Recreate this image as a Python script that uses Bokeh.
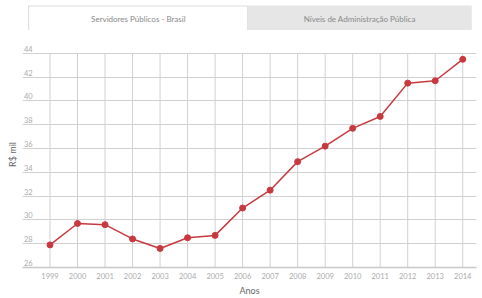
from bokeh.plotting import figure
from bokeh.layouts import column
from bokeh.models import FixedTicker, ColumnDataSource, Range1d
from bokeh.core.properties import value
from bokeh.embed import file_html
from bokeh.resources import INLINE

# ---- data ----
years = [1999, 2000, 2001, 2002, 2003, 2004, 2005, 2006, 2007,
         2008, 2009, 2010, 2011, 2012, 2013, 2014]
salaries = [27.9, 29.7, 29.6, 28.4, 27.6, 28.5, 28.7, 31.0, 32.5,
            34.9, 36.2, 37.7, 38.7, 41.5, 41.7, 43.5]
y_ticks = [26, 28, 30, 32, 34, 36, 38, 40, 42, 44]
y_tick_labels = [str(v) for v in y_ticks]
tab_labels = ["Servidores Públicos - Brasil", "Níveis de Administração Pública"]

FONT = "Lato"
W = 482

# ---- tab strip ----
tabs = figure(width=W, height=30, output_backend="svg", toolbar_location=None,
              x_range=Range1d(0, W), y_range=Range1d(30, 0),
              min_border=0, outline_line_color=None)
tabs.axis.visible = False
tabs.grid.visible = False
tabs.quad(left=[6.5], right=[239], top=[5.5], bottom=[31],
          fill_color="white", line_color="#dcdcdc", line_width=1)
tabs.quad(left=[239], right=[477], top=[5], bottom=[30],
          fill_color="#e6e6e6", line_color=None)
tabs.text(x=[123, 358], y=[18, 18], text=tab_labels,
          text_font=value(FONT), text_font_size="8px", text_color="#888888",
          text_align="center", text_baseline="middle")

# ---- chart ----
p = figure(width=W, height=268, output_backend="svg", toolbar_location=None,
           x_range=Range1d(1998, 2014.5), y_range=Range1d(26, 45),
           min_border_left=22, min_border_right=6, min_border_top=11,
           min_border_bottom=31, outline_line_color=None,
           background_fill_color="white", border_fill_color="white")

p.xaxis.ticker = FixedTicker(ticks=years)
p.xaxis.major_tick_line_color = None
p.xaxis.minor_tick_line_color = None
p.xaxis.major_tick_out = 0
p.xaxis.major_tick_in = 0
p.xaxis.axis_line_color = "#c8c8c8"
p.xaxis.axis_line_width = 1.5
p.xaxis.major_label_text_font = FONT
p.xaxis.major_label_text_font_size = "7.5px"
p.xaxis.major_label_text_color = "#aaaaaa"
p.xaxis.major_label_standoff = 5
p.xaxis.axis_label = "Anos"
p.xaxis.axis_label_text_font = FONT
p.xaxis.axis_label_text_font_style = "normal"
p.xaxis.axis_label_text_font_size = "9px"
p.xaxis.axis_label_text_color = "#666666"
p.xaxis.axis_label_standoff = 3

# y axis carries only its title; its tick labels are drawn inside the frame
p.yaxis.ticker = FixedTicker(ticks=[])
p.yaxis.major_tick_out = 0
p.yaxis.major_tick_in = 0
p.yaxis.minor_tick_out = 0
p.yaxis.axis_line_color = None
p.yaxis.major_label_standoff = 0
p.yaxis.axis_label = "R$ mil"
p.yaxis.axis_label_text_font = FONT
p.yaxis.axis_label_text_font_style = "normal"
p.yaxis.axis_label_text_font_size = "9px"
p.yaxis.axis_label_text_color = "#666666"
p.yaxis.axis_label_standoff = 5

p.xgrid.visible = False
p.ygrid.ticker = FixedTicker(ticks=y_ticks)
p.ygrid.grid_line_color = "#d0d0d0"
p.ygrid.grid_line_width = 1

# vertical grid lines spanning the tick range only
p.segment(x0=years, y0=[y_ticks[0]] * len(years),
          x1=years, y1=[y_ticks[-1]] * len(years),
          line_color="#d0d0d0", line_width=1)

# y tick labels drawn inside the frame, just above their grid lines
ysrc = ColumnDataSource(dict(x=[1998] * len(y_ticks), y=y_ticks, t=y_tick_labels))
p.text(x="x", y="y", text="t", source=ysrc, x_offset=1.5, y_offset=-1.5,
       text_font=value(FONT), text_font_size="7.5px", text_color="#aaaaaa",
       text_align="left", text_baseline="bottom")

src = ColumnDataSource(dict(x=years, y=salaries))
p.line("x", "y", source=src, line_color="#c8393f", line_width=1.5)
p.scatter("x", "y", source=src, size=6, fill_color="#c8393f",
          line_color="#c8393f")

layout = column(tabs, p, spacing=0)
open("out.html", "w").write(file_html(layout, INLINE))
